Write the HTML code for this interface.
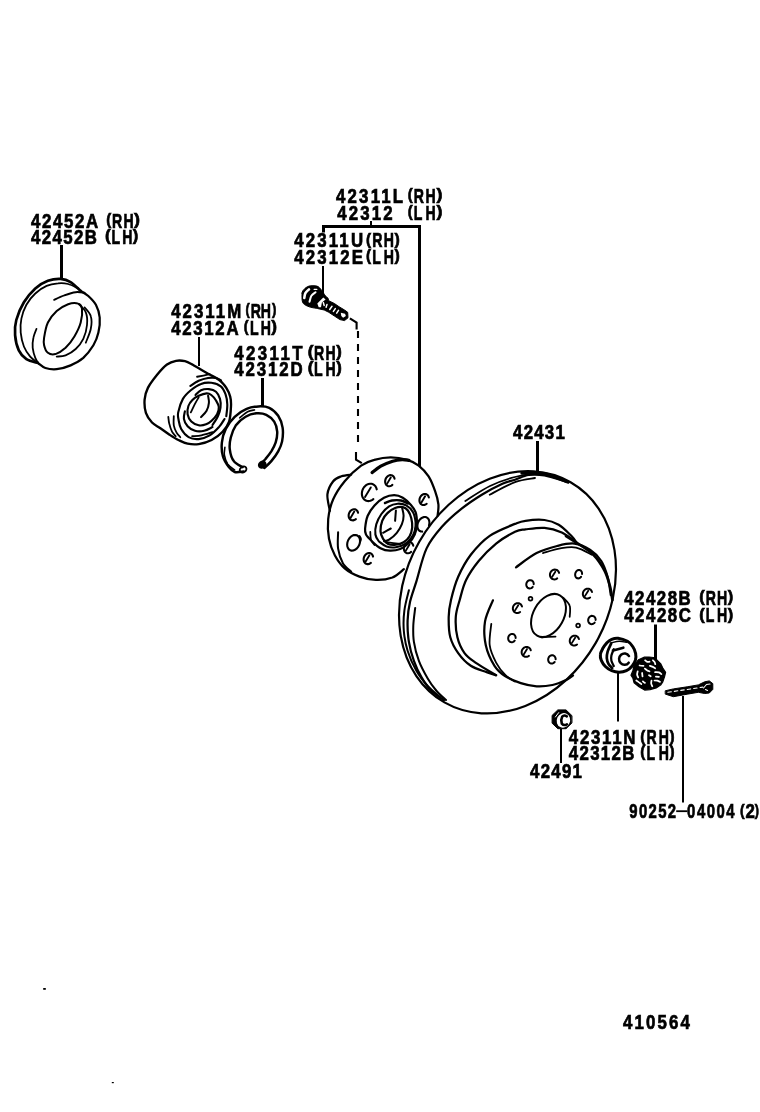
<!DOCTYPE html>
<html><head><meta charset="utf-8">
<style>
html,body{margin:0;padding:0;background:#fff;width:760px;height:1112px;overflow:hidden}
svg{display:block;will-change:transform}
text{font-family:"Liberation Sans",sans-serif;font-weight:bold;fill:#000}
</style></head><body>
<svg width="760" height="1112" viewBox="0 0 760 1112">
<g stroke="#000" stroke-width="0.7">
<text transform="translate(31.00,228.20) scale(0.86,1)" font-size="19.6" textLength="78.18" lengthAdjust="spacing">42452A</text>
<text transform="translate(106.20,224.80) scale(0.8,1)" font-size="17" textLength="6.25" lengthAdjust="spacingAndGlyphs">(</text>
<text transform="translate(112.00,228.20) scale(0.72,1)" font-size="19.6" textLength="30.00" lengthAdjust="spacing">RH</text>
<text transform="translate(134.00,224.80) scale(0.8,1)" font-size="17" textLength="7.47" lengthAdjust="spacingAndGlyphs">)</text>
<text transform="translate(31.00,243.70) scale(0.86,1)" font-size="19.6" textLength="76.74" lengthAdjust="spacing">42452B</text>
<text transform="translate(105.10,241.30) scale(0.8,1)" font-size="17" textLength="7.18" lengthAdjust="spacingAndGlyphs">(</text>
<text transform="translate(111.38,243.70) scale(0.72,1)" font-size="19.6" textLength="29.20" lengthAdjust="spacing">LH</text>
<text transform="translate(132.63,241.30) scale(0.8,1)" font-size="17" textLength="6.87" lengthAdjust="spacingAndGlyphs">)</text>
<text transform="translate(336.00,203.40) scale(0.86,1)" font-size="19.6" textLength="78.04" lengthAdjust="spacing">42311L</text>
<text transform="translate(407.80,200.00) scale(0.8,1)" font-size="17" textLength="6.19" lengthAdjust="spacingAndGlyphs">(</text>
<text transform="translate(413.85,203.40) scale(0.72,1)" font-size="19.6" textLength="30.50" lengthAdjust="spacing">RH</text>
<text transform="translate(436.45,200.00) scale(0.8,1)" font-size="17" textLength="7.40" lengthAdjust="spacingAndGlyphs">)</text>
<text transform="translate(337.20,219.50) scale(0.86,1)" font-size="19.6" textLength="64.39" lengthAdjust="spacing">42312</text>
<text transform="translate(407.80,217.10) scale(0.8,1)" font-size="17" textLength="6.19" lengthAdjust="spacingAndGlyphs">(</text>
<text transform="translate(413.85,219.50) scale(0.72,1)" font-size="19.6" textLength="30.50" lengthAdjust="spacing">LH</text>
<text transform="translate(436.45,217.10) scale(0.8,1)" font-size="17" textLength="7.40" lengthAdjust="spacingAndGlyphs">)</text>
<text transform="translate(294.20,247.40) scale(0.86,1)" font-size="19.6" textLength="80.10" lengthAdjust="spacing">42311U</text>
<text transform="translate(366.00,245.00) scale(0.8,1)" font-size="17" textLength="6.36" lengthAdjust="spacingAndGlyphs">(</text>
<text transform="translate(372.22,247.40) scale(0.72,1)" font-size="19.6" textLength="30.02" lengthAdjust="spacing">RH</text>
<text transform="translate(394.41,245.00) scale(0.8,1)" font-size="17" textLength="6.60" lengthAdjust="spacingAndGlyphs">)</text>
<text transform="translate(294.20,264.40) scale(0.86,1)" font-size="19.6" textLength="80.10" lengthAdjust="spacing">42312E</text>
<text transform="translate(366.00,261.00) scale(0.8,1)" font-size="17" textLength="6.36" lengthAdjust="spacingAndGlyphs">(</text>
<text transform="translate(372.22,264.40) scale(0.72,1)" font-size="19.6" textLength="30.02" lengthAdjust="spacing">LH</text>
<text transform="translate(394.41,261.00) scale(0.8,1)" font-size="17" textLength="6.60" lengthAdjust="spacingAndGlyphs">)</text>
<text transform="translate(171.20,318.40) scale(0.86,1)" font-size="19.6" textLength="81.40" lengthAdjust="spacing">42311M</text>
<text transform="translate(245.50,315.00) scale(0.8,1)" font-size="17" textLength="5.30" lengthAdjust="spacingAndGlyphs">(</text>
<text transform="translate(250.71,318.40) scale(0.72,1)" font-size="19.6" textLength="28.23" lengthAdjust="spacing">RH</text>
<text transform="translate(271.93,315.00) scale(0.8,1)" font-size="17" textLength="5.50" lengthAdjust="spacingAndGlyphs">)</text>
<text transform="translate(171.20,334.50) scale(0.86,1)" font-size="19.6" textLength="78.35" lengthAdjust="spacing">42312A</text>
<text transform="translate(243.70,332.10) scale(0.8,1)" font-size="17" textLength="5.99" lengthAdjust="spacingAndGlyphs">(</text>
<text transform="translate(249.98,334.50) scale(0.72,1)" font-size="19.6" textLength="29.20" lengthAdjust="spacing">LH</text>
<text transform="translate(271.23,332.10) scale(0.8,1)" font-size="17" textLength="7.15" lengthAdjust="spacingAndGlyphs">)</text>
<text transform="translate(234.20,360.20) scale(0.86,1)" font-size="19.6" textLength="79.52" lengthAdjust="spacing">42311T</text>
<text transform="translate(307.70,356.80) scale(0.8,1)" font-size="17" textLength="7.24" lengthAdjust="spacingAndGlyphs">(</text>
<text transform="translate(314.05,360.20) scale(0.72,1)" font-size="19.6" textLength="30.17" lengthAdjust="spacing">RH</text>
<text transform="translate(336.32,356.80) scale(0.8,1)" font-size="17" textLength="6.92" lengthAdjust="spacingAndGlyphs">)</text>
<text transform="translate(234.20,376.40) scale(0.86,1)" font-size="19.6" textLength="79.52" lengthAdjust="spacing">42312D</text>
<text transform="translate(307.70,373.00) scale(0.8,1)" font-size="17" textLength="7.24" lengthAdjust="spacingAndGlyphs">(</text>
<text transform="translate(314.05,376.40) scale(0.72,1)" font-size="19.6" textLength="30.17" lengthAdjust="spacing">LH</text>
<text transform="translate(336.32,373.00) scale(0.8,1)" font-size="17" textLength="6.92" lengthAdjust="spacingAndGlyphs">)</text>
<text transform="translate(513.10,439.20) scale(0.86,1)" font-size="19.6" textLength="60.17" lengthAdjust="spacing">42431</text>
<text transform="translate(624.20,604.50) scale(0.86,1)" font-size="19.6" textLength="77.33" lengthAdjust="spacing">42428B</text>
<text transform="translate(699.30,602.10) scale(0.8,1)" font-size="17" textLength="6.85" lengthAdjust="spacingAndGlyphs">(</text>
<text transform="translate(705.83,604.50) scale(0.72,1)" font-size="19.6" textLength="29.70" lengthAdjust="spacing">RH</text>
<text transform="translate(727.68,602.10) scale(0.8,1)" font-size="17" textLength="6.82" lengthAdjust="spacingAndGlyphs">)</text>
<text transform="translate(624.20,622.30) scale(0.86,1)" font-size="19.6" textLength="77.50" lengthAdjust="spacing">42428C</text>
<text transform="translate(699.30,619.90) scale(0.8,1)" font-size="17" textLength="6.85" lengthAdjust="spacingAndGlyphs">(</text>
<text transform="translate(705.83,622.30) scale(0.72,1)" font-size="19.6" textLength="29.70" lengthAdjust="spacing">LH</text>
<text transform="translate(727.68,619.90) scale(0.8,1)" font-size="17" textLength="6.82" lengthAdjust="spacingAndGlyphs">)</text>
<text transform="translate(568.80,744.20) scale(0.86,1)" font-size="19.6" textLength="77.60" lengthAdjust="spacing">42311N</text>
<text transform="translate(640.20,741.80) scale(0.8,1)" font-size="17" textLength="6.36" lengthAdjust="spacingAndGlyphs">(</text>
<text transform="translate(646.42,744.20) scale(0.72,1)" font-size="19.6" textLength="31.13" lengthAdjust="spacing">RH</text>
<text transform="translate(669.61,741.80) scale(0.8,1)" font-size="17" textLength="6.33" lengthAdjust="spacingAndGlyphs">)</text>
<text transform="translate(568.80,759.60) scale(0.86,1)" font-size="19.6" textLength="76.34" lengthAdjust="spacing">42312B</text>
<text transform="translate(640.20,757.20) scale(0.8,1)" font-size="17" textLength="6.36" lengthAdjust="spacingAndGlyphs">(</text>
<text transform="translate(646.42,759.60) scale(0.72,1)" font-size="19.6" textLength="31.13" lengthAdjust="spacing">LH</text>
<text transform="translate(669.61,757.20) scale(0.8,1)" font-size="17" textLength="6.33" lengthAdjust="spacingAndGlyphs">)</text>
<text transform="translate(530.00,778.10) scale(0.86,1)" font-size="19.6" textLength="60.47" lengthAdjust="spacing">42491</text>
<text transform="translate(629.30,818.30) scale(0.76,1)" font-size="19.6" textLength="61.51" lengthAdjust="spacing">90252</text>
<text transform="translate(687.10,818.20) scale(0.76,1)" font-size="19.6" textLength="62.50" lengthAdjust="spacing">04004</text>
<text transform="translate(740.00,815.80) scale(0.8,1)" font-size="17" textLength="5.76" lengthAdjust="spacingAndGlyphs">(</text>
<text transform="translate(745.40,818.20) scale(0.86,1)" font-size="19.6" textLength="4.53" lengthAdjust="spacing">2</text>
<text transform="translate(754.80,815.80) scale(0.8,1)" font-size="17" textLength="5.30" lengthAdjust="spacingAndGlyphs">)</text>
<text transform="translate(623.00,1029.00) scale(0.86,1)" font-size="19.6" textLength="77.91" lengthAdjust="spacing">410564</text>
<path d="M676.2 811.2H687.4" stroke-width="1.8" fill="none"/>
</g>
<g stroke="#000" fill="none" stroke-width="2">
<path d="M61.5 245V279" stroke-width="3"/>
<path d="M322 226.5H421M323.5 225V232.5M419.5 225V466" stroke-width="3"/>
<path d="M371 221V225.5" stroke-width="2"/>
<path d="M323 266V294"/>
<path d="M199 337V366"/>
<path d="M262.5 378V406" stroke-width="3"/>
<path d="M537.5 441V472" stroke-width="3"/>
<path d="M655.5 624.5V660" stroke-width="3"/>
<path d="M618 673V721.5"/>
<path d="M561 729V763"/>
<path d="M683 696V802.5"/>
</g>
<g stroke="#000" fill="none" stroke-linecap="round" stroke-linejoin="round">
<path d="M80.7 290.9C79.0 289.5 74.0 284.1 70.6 282.1C67.3 280.1 64.3 279.2 60.5 278.9C56.7 278.7 52.1 279.3 47.9 280.8C43.7 282.4 39.3 284.8 35.3 288.4C31.3 292.0 27.1 297.0 23.9 302.3C20.7 307.6 17.8 314.5 16.3 320.0C14.8 325.5 14.6 330.1 15.1 335.1C15.5 340.2 16.9 346.3 18.8 350.3C20.7 354.3 23.3 357.0 26.4 359.1C29.6 361.2 35.9 362.3 37.8 362.9" stroke-width="2.69"/>
<path d="M80.7 290.9C82.0 291.8 85.8 293.7 88.3 296.0C90.8 298.3 94.0 301.3 95.9 304.8C97.8 308.4 99.3 312.8 99.7 317.5C100.1 322.1 99.5 328.0 98.4 332.6C97.4 337.2 95.9 341.0 93.4 345.2C90.8 349.4 87.0 354.5 83.3 357.9C79.5 361.2 75.0 363.5 70.6 365.4C66.2 367.3 60.9 368.8 56.7 369.2C52.5 369.6 48.5 369.0 45.4 368.0C42.2 366.9 39.1 363.8 37.8 362.9" stroke-width="2.24"/>
<path d="M78.2 288.4C76.5 287.7 71.5 284.8 68.1 284.0C64.7 283.2 61.6 283.0 58.0 283.4C54.4 283.7 50.4 284.2 46.6 285.9C42.8 287.6 38.6 290.3 35.3 293.5C31.9 296.6 28.7 300.6 26.4 304.8C24.1 309.0 22.3 314.1 21.4 318.7C20.4 323.3 20.3 328.0 20.7 332.6C21.2 337.2 22.3 342.5 23.9 346.5C25.5 350.5 27.9 353.9 30.2 356.6C32.5 359.3 36.5 361.9 37.8 362.9" stroke-width="1.79"/>
<path d="M54.2 299.8C55.9 299.0 60.7 296.6 64.3 295.4C67.9 294.1 72.3 292.6 75.7 292.2C79.0 291.8 83.0 292.7 84.5 292.8" stroke-width="2.02"/>
<path d="M36.5 328.8C36.0 330.3 34.0 334.5 33.4 337.7C32.7 340.8 32.4 344.4 32.7 347.8C33.1 351.1 34.2 355.1 35.3 357.9C36.3 360.6 38.4 363.1 39.1 364.2" stroke-width="1.79"/>
<path d="M44.1 337.7C44.7 333.9 45.8 326.9 47.9 322.5C50.0 318.1 53.4 314.2 56.7 311.1C60.1 308.1 64.5 305.5 68.1 304.2C71.7 302.9 75.9 302.8 78.2 303.6C80.5 304.3 81.6 305.5 82.0 308.6C82.4 311.8 82.0 317.9 80.7 322.5C79.5 327.1 76.9 332.2 74.4 336.4C71.9 340.6 68.7 344.8 65.6 347.8C62.4 350.7 58.4 353.2 55.5 354.1C52.5 354.9 49.8 354.3 47.9 352.8C46.0 351.3 44.7 347.8 44.1 345.2C43.5 342.7 43.5 341.4 44.1 337.7Z" stroke-width="2.02"/>
<path d="M78.8 304.2C80.0 305.6 84.4 308.9 85.8 312.4C87.2 315.9 87.5 320.6 87.0 325.0C86.6 329.4 85.2 334.9 83.3 338.9C81.4 342.9 78.6 346.3 75.7 349.0C72.7 351.8 68.7 354.1 65.6 355.3C62.4 356.6 58.2 356.4 56.7 356.6" stroke-width="1.79"/>
<path d="M84.5 307.4C85.6 308.8 89.8 312.6 90.8 316.2C91.9 319.8 91.7 324.4 90.8 328.8C90.0 333.2 86.6 340.4 85.8 342.7" stroke-width="1.79"/>
<path d="M193.2 365.0C191.8 364.4 187.9 361.9 185.0 361.2C182.1 360.5 179.0 360.2 176.0 360.8C173.0 361.4 170.2 362.2 167.0 364.5C163.8 366.8 160.3 370.8 157.1 374.7C153.9 378.6 150.0 383.7 147.9 387.9C145.8 392.1 144.9 395.5 144.6 399.7C144.3 403.9 144.7 409.1 145.9 412.9C147.1 416.7 149.7 420.0 152.0 422.5C154.3 425.0 157.1 426.0 160.0 428.0C162.9 430.0 166.1 432.5 169.2 434.5C172.3 436.5 175.3 438.5 178.4 440.0C181.5 441.5 184.2 443.0 187.6 443.7C191.0 444.4 194.7 444.7 198.7 444.1C202.7 443.5 207.6 442.1 211.6 440.0C215.6 437.9 219.7 434.8 222.6 431.7C225.5 428.6 227.7 425.9 229.1 421.6C230.5 417.3 230.8 410.2 231.0 406.0C231.2 401.8 231.0 399.6 230.2 396.6C229.4 393.6 228.1 390.7 226.3 387.9C224.5 385.1 222.2 382.4 219.2 380.0C216.2 377.6 212.4 376.2 208.1 373.7C203.8 371.2 195.7 366.4 193.2 365.0" stroke-width="2.35"/>
<path d="M190.4 385.9C191.8 385.0 195.8 382.1 198.7 380.8C201.6 379.5 205.2 378.5 208.1 378.0C211.0 377.5 213.8 377.6 216.0 378.0C218.2 378.4 220.2 380.1 221.0 380.5" stroke-width="2.13"/>
<path d="M226.3 416.1C226.5 414.2 227.4 408.1 227.3 404.5C227.2 400.9 226.6 397.2 225.5 394.2C224.4 391.2 223.2 388.2 220.8 386.3C218.4 384.4 214.6 383.2 211.3 382.8C208.0 382.4 204.4 382.6 201.0 383.9C197.6 385.1 193.8 387.8 190.8 390.3C187.8 392.8 185.0 395.2 182.9 398.9C180.8 402.6 178.9 408.9 178.2 412.4C177.5 415.9 178.1 417.2 178.6 420.0C179.1 422.8 179.5 426.1 181.2 429.0C182.9 431.9 185.7 435.5 188.6 437.2C191.5 438.9 195.2 439.4 198.7 439.1C202.2 438.8 206.3 437.4 209.7 435.4C213.1 433.4 216.4 429.8 218.9 427.1C221.4 424.4 223.6 420.4 224.5 419.0" stroke-width="2.13"/>
<path d="M195.5 395.0C196.4 394.2 198.8 391.3 201.0 390.3C203.2 389.3 206.4 388.9 208.9 389.1C211.4 389.4 214.2 390.2 216.0 391.8C217.8 393.4 219.2 396.3 220.0 398.9C220.8 401.5 220.8 404.8 220.5 407.6C220.2 410.5 219.3 413.1 218.0 416.0C216.7 418.9 213.4 423.5 212.5 425.0" stroke-width="2.13"/>
<path d="M184.9 411.4C184.7 412.6 183.5 416.3 183.9 418.8C184.3 421.3 185.8 424.2 187.6 426.2C189.4 428.2 192.2 430.0 195.0 430.8C197.8 431.6 201.3 431.4 204.2 430.8C207.1 430.2 211.1 427.7 212.5 427.1" stroke-width="2.13"/>
<path d="M192.2 436.3C193.7 436.1 198.0 436.1 201.4 435.4C204.8 434.7 210.7 432.7 212.5 432.2" stroke-width="1.90"/>
<path d="M206.6 393.4C208.7 393.3 209.7 393.8 211.3 395.0C212.9 396.2 214.8 398.5 216.0 400.5C217.2 402.5 218.6 404.7 218.8 407.0C219.0 409.3 218.3 411.9 217.1 414.2C215.9 416.5 213.4 419.0 211.6 420.7C209.8 422.4 208.2 423.5 206.1 424.3C203.9 425.1 201.2 425.8 198.7 425.3C196.2 424.9 193.2 423.5 191.3 421.6C189.5 419.8 188.1 416.8 187.6 414.2C187.1 411.6 187.6 408.4 188.4 406.0C189.2 403.6 190.7 401.7 192.4 400.0C194.1 398.3 196.3 396.9 198.7 395.8C201.1 394.7 204.5 393.5 206.6 393.4Z" stroke-width="2.13"/>
<path d="M208.1 395.8C208.2 397.0 209.2 400.4 208.9 402.9C208.7 405.4 207.9 408.4 206.6 410.8C205.3 413.2 201.9 416.1 201.0 417.1" stroke-width="2.02"/>
<path d="M190.8 412.4C191.6 410.8 194.2 405.4 195.5 402.9C196.8 400.4 198.2 398.3 198.7 397.4" stroke-width="1.79"/>
<path d="M168.3 417.0C168.5 418.1 168.6 420.9 169.2 423.4C169.8 425.8 170.9 429.5 172.0 431.7C173.1 433.9 175.1 435.5 175.7 436.3" stroke-width="1.79"/>
<path d="M173.8 416.1C173.8 417.6 173.3 422.6 173.8 425.3C174.3 428.1 175.5 430.6 176.6 432.6C177.7 434.6 179.7 436.4 180.3 437.2" stroke-width="1.79"/>
<path d="M197.1 376.8C199.2 376.4 207.6 374.6 209.7 374.1" stroke-width="1.90"/>
<path d="M243.6 471.5C242.1 471.6 237.2 472.7 234.7 472.0C232.3 471.3 230.8 469.7 228.8 467.1C226.8 464.4 224.0 460.3 222.9 456.2C221.7 452.1 221.4 447.0 221.9 442.4C222.4 437.8 223.7 432.9 225.9 428.6C228.0 424.3 231.3 420.1 234.7 416.8C238.2 413.5 242.6 410.6 246.6 408.9C250.5 407.1 254.6 406.6 258.4 406.4C262.2 406.2 266.0 406.3 269.3 407.9C272.6 409.5 275.9 412.5 278.2 415.8C280.4 419.1 281.9 423.3 282.6 427.6C283.3 431.9 282.8 437.5 282.1 441.4C281.4 445.4 280.0 448.0 278.2 451.3C276.4 454.6 273.6 458.3 271.3 461.1C268.9 463.9 265.5 466.9 264.3 468.0" stroke-width="2.46"/>
<path d="M242.6 467.1C241.2 466.1 235.9 464.1 233.8 461.1C231.6 458.2 230.3 453.3 229.8 449.3C229.3 445.4 229.8 441.4 230.8 437.5C231.8 433.5 233.3 429.1 235.7 425.6C238.2 422.2 242.1 418.8 245.6 416.8C249.0 414.7 253.0 413.6 256.4 413.3C259.9 413.0 263.4 413.4 266.3 414.8C269.3 416.2 272.4 418.9 274.2 421.7C276.0 424.5 276.9 428.1 277.2 431.6C277.4 435.0 276.7 439.1 275.7 442.4C274.7 445.7 273.0 448.5 271.3 451.3C269.5 454.1 267.1 457.0 265.3 459.2C263.5 461.3 261.2 463.3 260.4 464.1" stroke-width="2.46"/>
<path d="M239.7 417.8C241.0 416.8 245.1 413.1 247.6 411.8C250.0 410.5 253.3 410.2 254.5 409.9" stroke-width="1.57"/>
<path d="M224.9 447.3C224.8 448.7 223.9 452.4 224.4 455.2C224.9 458.0 226.1 461.6 227.8 464.1C229.6 466.6 233.6 469.0 234.7 470.0" stroke-width="1.57"/>
<ellipse cx="243.1" cy="469.5" rx="3.6" ry="2.8" transform="rotate(-35 243.1 469.5)" stroke-width="1.8"/>
<ellipse cx="262.2" cy="464.6" rx="3.6" ry="3" transform="rotate(-35 262.2 464.6)" stroke-width="1.8" fill="#000"/>
<path d="M302.1 293.1C302.3 291.0 302.9 290.6 304.0 289.4C305.1 288.2 306.9 286.7 309.0 286.1C311.1 285.6 314.9 285.6 316.9 286.1C318.9 286.7 319.9 288.2 321.0 289.4C322.1 290.6 323.0 292.2 323.8 293.5C324.6 294.8 325.6 295.7 325.6 297.2C325.6 298.7 325.0 300.9 323.8 302.7C322.6 304.5 320.5 306.9 318.7 307.8C316.9 308.7 315.1 308.1 313.2 307.8C311.3 307.5 309.0 306.9 307.2 306.0C305.4 305.1 303.5 304.4 302.6 302.3C301.8 300.2 301.9 295.2 302.1 293.1Z" fill="#000" stroke="#000" stroke-width="1"/>
<polygon points="322.0,293.4 327.9,298.0 328.8,300.8 334.4,303.5 339.0,306.7 344.5,310.0 347.7,312.3 348.0,317.8 344.5,320.6 339.9,319.6 334.4,316.0 328.8,312.3 324.2,310.0 317.8,308.6" fill="#000" stroke="#000" stroke-width="1" stroke-linejoin="round"/>
<path d="M304.3 298.0C304.5 297.2 304.6 294.6 305.4 293.1C306.2 291.7 308.4 289.9 309.0 289.3" stroke-width="2.58" stroke="#fff"/>
<path d="M309.5 301.8C309.8 300.8 310.4 297.4 311.4 295.8C312.4 294.2 314.8 292.8 315.5 292.2" stroke-width="2.02" stroke="#fff"/>
<path d="M314.1 289.4C314.6 289.4 316.4 289.4 316.9 289.4" stroke-width="1.12" stroke="#fff"/>
<polygon points="317.3,303.5 320.5,300.3 323.3,297.5 325.6,299.4 321.9,302.6 321,307.2 318.7,307.2" fill="#fff" stroke="none"/>
<path d="M323.3 302.6L324.2 305.4" stroke="#fff" stroke-width="1.5"/>
<path d="M327.0 304.4L326.1 307.2" stroke="#fff" stroke-width="1.5"/>
<path d="M332.0 306.3L329.7 309.5" stroke="#fff" stroke-width="1.5"/>
<path d="M335.3 308.6L333.4 311.4" stroke="#fff" stroke-width="1.5"/>
<path d="M338.5 310.4L336.7 313.2" stroke="#fff" stroke-width="1.5"/>
<polygon points="340.8,312.7 345,313.7 345.9,316 343.1,317.8 341.3,316" fill="#fff" stroke="none"/>
<path d="M349.9 318.3L356.6 322.6V329.5M358 331.1V337.9M358 344.1V350.9M358 357.1V363.9M358 370.1V376.9M358 383.1V389.9M358 396.1V402.9M358 409.1V415.9M358 422.1V428.9M358 435.1V441.9M356 452.1V459.6L361.8 463.2" stroke-width="2.1" stroke-linecap="butt" stroke-linejoin="miter"/>
<path d="M403.9 569.2C402.0 570.6 397.0 575.7 392.4 577.5C387.7 579.2 381.4 580.1 375.9 579.9C370.4 579.8 364.7 578.6 359.5 576.6C354.3 574.7 348.8 572.0 344.7 568.4C340.6 564.9 337.4 560.2 334.8 555.3C332.2 550.3 330.1 544.8 329.0 538.8C327.9 532.8 327.5 525.7 328.2 519.1C328.9 512.5 330.4 505.6 333.2 499.3C335.9 493.0 340.0 486.9 344.7 481.2C349.3 475.6 356.2 469.2 361.1 465.6C366.1 462.1 369.3 461.2 374.3 459.9C379.2 458.5 385.2 457.4 390.7 457.4C396.2 457.4 402.5 458.5 407.2 459.9C411.8 461.2 415.1 462.9 418.7 465.6C422.2 468.4 425.8 472.1 428.6 476.3C431.3 480.6 433.5 486.5 435.1 491.1C436.8 495.8 438.0 500.2 438.4 504.3C438.8 508.4 437.7 513.9 437.6 515.8" stroke-width="2.24"/>
<path d="M329.9 510.9C329.5 508.1 326.9 499.3 327.4 494.4C327.9 489.5 330.8 484.3 333.2 481.2C335.5 478.2 338.4 477.4 341.4 476.3C344.4 475.2 349.6 474.9 351.2 474.7" stroke-width="2.24"/>
<path d="M338.1 532.2C338.1 535.0 337.3 543.5 338.1 548.7C338.9 553.9 340.8 559.6 343.0 563.5C345.2 567.3 349.9 570.3 351.2 571.7" stroke-width="2.02"/>
<path d="M372.1 472.6C373.6 471.5 377.4 468.1 380.8 466.2C384.2 464.3 389.1 462.3 392.6 461.2C396.2 460.1 399.4 459.8 402.1 459.6C404.8 459.5 407.9 460.2 409.0 460.3" stroke-width="3.25"/>
<path d="M365.1 528.5C365.4 525.4 366.1 519.6 367.7 515.7C369.3 511.9 371.8 508.4 374.5 505.4C377.2 502.4 380.7 499.4 384.0 497.7C387.3 496.0 391.1 495.1 394.2 495.1C397.3 495.1 400.1 496.1 402.8 497.7C405.5 499.3 408.4 502.1 410.5 504.5C412.6 506.9 414.5 508.9 415.6 512.2C416.7 515.5 417.0 520.5 416.9 524.2C416.8 527.9 416.0 531.4 414.7 534.5C413.4 537.6 411.2 540.6 408.8 543.0C406.4 545.4 403.4 547.7 400.2 549.0C397.0 550.3 393.2 550.8 389.9 550.7C386.6 550.6 383.5 549.8 380.5 548.2C377.5 546.6 374.4 543.6 372.0 541.3C369.6 539.0 367.1 536.6 366.0 534.5C364.9 532.4 364.8 531.6 365.1 528.5Z" stroke-width="2.24"/>
<path d="M378.8 541.3C378.2 540.2 375.8 537.4 375.4 534.5C375.0 531.6 375.3 527.6 376.3 524.2C377.3 520.8 379.3 517.0 381.4 514.0C383.5 511.0 386.4 508.0 389.1 506.3C391.8 504.6 394.8 503.9 397.6 503.7C400.5 503.5 403.6 504.0 406.2 505.4C408.8 506.8 411.4 509.4 413.0 512.2C414.6 515.1 415.3 519.4 415.6 522.5C415.9 525.6 415.4 528.5 414.7 531.1C414.0 533.7 412.9 535.8 411.3 537.9C409.7 540.0 407.9 542.3 405.3 543.9C402.7 545.5 399.0 546.9 395.9 547.3C392.8 547.7 389.4 547.5 386.5 546.5C383.6 545.5 380.1 542.2 378.8 541.3" stroke-width="2.13"/>
<path d="M385.0 503.0C386.2 502.6 389.3 500.9 392.0 500.5C394.7 500.1 398.3 500.0 401.0 500.5C403.7 501.0 406.8 503.0 408.0 503.5" stroke-width="2.46"/>
<path d="M380.5 531.1C380.4 528.1 381.1 523.8 382.2 520.8C383.3 517.8 385.2 515.2 387.4 513.1C389.5 511.0 392.5 509.0 395.1 508.0C397.7 507.0 400.7 506.7 402.8 507.1C404.9 507.5 406.5 508.6 407.9 510.5C409.3 512.4 410.6 515.4 411.3 518.2C412.0 521.1 412.5 524.6 412.2 527.6C411.9 530.6 411.0 533.8 409.6 536.2C408.2 538.6 405.9 540.8 403.6 542.2C401.3 543.6 398.5 544.4 395.9 544.7C393.3 545.0 390.3 544.9 388.2 543.9C386.1 542.9 384.4 540.9 383.1 538.8C381.8 536.7 380.6 534.1 380.5 531.1Z" stroke-width="2.24"/>
<path d="M401.9 507.1C402.2 508.5 403.6 512.9 403.6 515.7C403.6 518.6 403.0 521.4 401.9 524.2C400.8 527.1 398.9 530.2 396.8 532.8C394.7 535.4 391.2 538.2 389.1 539.6C387.0 541.0 384.9 541.0 384.0 541.3" stroke-width="2.02"/>
<path d="M395.9 510.5C395.8 512.2 395.2 519.1 395.1 520.8" stroke-width="2.02"/>
<path d="M383.1 532.8C384.4 532.1 389.5 529.2 390.8 528.5" stroke-width="2.02"/>
<path d="M386.5 542.2C388.8 542.5 397.9 543.6 400.2 543.9" stroke-width="1.79"/>
<path d="M370.3 532.0C370.4 533.3 370.3 537.8 371.0 540.0C371.7 542.2 373.9 544.2 374.5 545.0" stroke-width="1.79"/>
<path d="M394.56 478.71 L394.24 477.67 L393.73 476.77 L393.06 476.03 L392.24 475.51 L391.33 475.21 L390.34 475.15 L389.34 475.34 L388.37 475.76 L387.46 476.40 L386.66 477.23 L386.00 478.21 L385.51 479.30 L385.22 480.46 L385.13 481.62 L385.25 482.74 L385.58 483.78 L386.10 484.67 L386.78 485.40 L387.60 485.91 L388.52 486.20 L389.51 486.25 L390.51 486.05 L391.48 485.61 L392.39 484.96" stroke-width="2.1"/>
<path d="M390.80 477.50L387.13 483.64" stroke-width="1.8900000000000001"/>
<path d="M376.76 489.33 L376.25 487.70 L375.44 486.28 L374.36 485.13 L373.06 484.29 L371.61 483.82 L370.05 483.72 L368.47 484.00 L366.93 484.65 L365.50 485.65 L364.24 486.94 L363.20 488.47 L362.44 490.17 L361.99 491.98 L361.86 493.80 L362.06 495.56 L362.59 497.18 L363.41 498.59 L364.50 499.72 L365.81 500.54 L367.27 501.00 L368.83 501.08 L370.41 500.77 L371.95 500.10 L373.37 499.09" stroke-width="2.1"/>
<path d="M370.79 487.40L365.03 496.97" stroke-width="1.8900000000000001"/>
<path d="M428.86 497.51 L428.54 496.47 L428.03 495.57 L427.36 494.83 L426.54 494.31 L425.63 494.01 L424.64 493.95 L423.64 494.14 L422.67 494.56 L421.76 495.20 L420.96 496.03 L420.30 497.01 L419.81 498.10 L419.52 499.26 L419.43 500.42 L419.55 501.54 L419.88 502.58 L420.40 503.47 L421.08 504.20 L421.90 504.71 L422.82 505.00 L423.81 505.05 L424.81 504.85 L425.78 504.41 L426.69 503.76" stroke-width="2.1"/>
<path d="M425.10 496.30L421.43 502.44" stroke-width="1.8900000000000001"/>
<path d="M358.06 512.81 L357.74 511.77 L357.23 510.87 L356.56 510.13 L355.74 509.61 L354.83 509.31 L353.84 509.25 L352.84 509.44 L351.87 509.86 L350.96 510.50 L350.16 511.33 L349.50 512.31 L349.01 513.40 L348.72 514.56 L348.63 515.72 L348.75 516.84 L349.08 517.88 L349.60 518.77 L350.28 519.50 L351.10 520.01 L352.02 520.30 L353.01 520.35 L354.01 520.15 L354.98 519.71 L355.89 519.06" stroke-width="2.1"/>
<path d="M354.30 511.60L350.63 517.74" stroke-width="1.8900000000000001"/>
<path d="M373.06 556.61 L372.74 555.57 L372.23 554.67 L371.56 553.93 L370.74 553.41 L369.83 553.11 L368.84 553.05 L367.84 553.24 L366.87 553.66 L365.96 554.30 L365.16 555.13 L364.50 556.11 L364.01 557.20 L363.72 558.36 L363.63 559.52 L363.75 560.64 L364.08 561.68 L364.60 562.57 L365.28 563.30 L366.10 563.81 L367.02 564.10 L368.01 564.15 L369.01 563.95 L369.98 563.51 L370.89 562.86" stroke-width="2.1"/>
<path d="M369.30 555.40L365.63 561.54" stroke-width="1.8900000000000001"/>
<path d="M413.26 545.71 L412.94 544.67 L412.43 543.77 L411.76 543.03 L410.94 542.51 L410.03 542.21 L409.04 542.15 L408.04 542.34 L407.07 542.76 L406.16 543.40 L405.36 544.23 L404.70 545.21 L404.21 546.30 L403.92 547.46 L403.83 548.62 L403.95 549.74 L404.28 550.78 L404.80 551.67 L405.48 552.40 L406.30 552.91 L407.22 553.20 L408.21 553.25 L409.21 553.05 L410.18 552.61 L411.09 551.96" stroke-width="2.1"/>
<path d="M409.50 544.50L405.83 550.64" stroke-width="1.8900000000000001"/>
<path d="M359.04 545.34 L359.75 543.33 L360.04 541.28 L359.90 539.34 L359.32 537.63 L358.35 536.28 L357.07 535.37 L355.54 534.97 L353.88 535.10 L352.21 535.75 L350.62 536.89 L349.24 538.43 L348.16 540.26 L347.45 542.27 L347.16 544.32 L347.30 546.26 L347.88 547.97 L348.85 549.32 L350.13 550.23 L351.66 550.63 L353.32 550.50 L354.99 549.85 L356.58 548.71 L357.96 547.17 L359.04 545.34" stroke-width="2.1"/>
<path d="M359.5 536.0C359.8 536.5 360.9 538.0 361.0 539.0C361.1 540.0 360.2 541.5 360.0 542.0" stroke-width="1.79"/>
<path d="M428.96 525.43 L429.30 523.96 L429.41 522.49 L429.26 521.10 L428.87 519.85 L428.26 518.77 L427.44 517.93 L426.46 517.35 L425.35 517.05 L424.17 517.06 L422.95 517.36 L421.74 517.95 L420.61 518.81 L419.59 519.89 L418.73 521.15 L418.06 522.54 L417.62 524.01 L417.41 525.49 L417.45 526.91 L417.73 528.24 L418.25 529.39 L418.98 530.34 L419.90 531.04 L420.96 531.46 L422.12 531.58" stroke-width="2.1"/>
<ellipse cx="507.5" cy="592.3" rx="101.7" ry="126.9" transform="rotate(29.8 507.5 592.3)" stroke-width="2.2"/>
<path d="M568.2 482.1C564.2 481.0 551.1 476.7 544.5 475.5C537.9 474.3 533.6 474.3 528.7 475.0C523.8 475.7 519.4 478.2 515.0 479.7C510.6 481.1 507.9 481.2 502.4 483.7C496.9 486.2 488.6 490.5 481.8 494.7C475.0 498.9 467.9 503.6 461.3 508.9C454.7 514.2 448.2 519.7 442.4 526.3C436.6 532.9 430.9 539.2 426.6 548.4C422.3 557.6 419.1 572.5 416.4 581.4C413.6 590.3 411.6 595.1 410.1 601.6C408.6 608.1 407.8 613.8 407.6 620.5C407.4 627.2 407.8 635.2 408.9 641.9C409.9 648.6 411.8 654.9 413.9 660.8C416.0 666.7 418.5 672.1 421.4 677.1C424.3 682.1 427.7 687.2 431.5 691.0C435.3 694.8 441.9 698.5 444.0 700.0" stroke-width="2.24"/>
<path d="M408.9 590.2C408.1 593.6 405.2 603.7 404.4 610.4C403.5 617.1 403.3 623.8 403.8 630.5C404.3 637.2 405.5 644.0 407.6 650.7C409.7 657.4 413.0 664.9 416.4 670.8C419.8 676.7 423.8 681.6 427.7 686.0C431.6 690.4 437.9 695.2 440.0 697.0" stroke-width="2.02"/>
<path d="M415.2 607.9C414.9 610.8 413.5 619.8 413.3 625.5C413.1 631.2 413.0 636.0 413.9 641.9C414.8 647.8 416.6 654.7 418.9 660.8C421.2 666.9 424.8 673.4 427.7 678.4C430.6 683.4 433.6 687.4 436.6 691.0C439.7 694.6 444.4 698.5 446.0 700.0" stroke-width="2.02"/>
<path d="M465.3 501.0C469.4 498.5 481.7 490.0 490.0 486.0C498.3 482.0 506.7 479.0 515.0 477.0C523.3 475.0 532.5 473.8 540.0 474.0C547.5 474.2 556.7 477.3 560.0 478.0" stroke-width="1.79"/>
<path d="M489.7 494.7C493.9 492.6 507.4 484.9 515.0 482.1C522.5 479.3 531.7 478.7 535.0 478.0" stroke-width="1.79"/>
<path d="M522.0 473.0C525.8 473.2 537.3 472.5 545.0 474.0C552.7 475.5 564.2 480.7 568.0 482.0" stroke-width="3.36"/>
<path d="M496.1 675.2C494.5 674.7 490.8 673.7 486.6 672.1C482.4 670.5 475.5 669.0 470.8 665.8C466.1 662.6 461.6 657.9 458.2 653.1C454.8 648.4 451.9 643.3 450.3 637.3C448.7 631.2 448.6 623.0 448.7 616.8C448.8 610.6 449.4 606.7 451.0 600.0C452.6 593.3 454.9 584.3 458.2 576.8C461.5 569.2 465.6 561.5 470.8 554.7C476.1 547.9 482.3 540.9 489.7 535.8C497.1 530.7 509.0 526.4 515.0 523.9C521.0 521.4 520.6 521.4 525.5 520.8C530.4 520.1 539.0 519.4 544.5 520.0C550.0 520.6 554.2 522.1 558.7 524.7C563.2 527.3 568.3 532.8 571.3 535.8C574.3 538.8 575.9 541.7 576.8 542.9" stroke-width="2.24"/>
<path d="M496.1 675.2C492.7 673.1 480.8 666.3 475.5 662.6C470.2 658.9 467.5 657.3 464.5 653.1C461.5 648.9 458.8 643.3 457.4 637.3C455.9 631.2 455.4 623.0 455.8 616.8C456.2 610.6 458.0 606.1 459.7 600.0C461.4 593.9 462.9 586.5 466.1 580.0C469.3 573.5 473.7 567.1 478.7 561.0C483.7 554.9 490.1 548.5 496.1 543.6C502.2 538.7 510.1 534.2 515.0 531.8C519.9 529.4 520.6 530.0 525.5 529.4C530.4 528.8 538.5 527.4 544.5 527.9C550.5 528.4 556.4 530.1 561.8 532.6C567.2 535.1 574.3 541.2 576.8 542.9" stroke-width="2.24"/>
<path d="M566.0 536.0C567.8 537.1 572.2 539.8 576.8 542.9C581.4 546.0 588.8 550.1 593.4 554.7C598.0 559.3 601.7 565.2 604.5 570.5C607.3 575.8 608.7 581.4 610.0 586.3C611.3 591.2 612.0 597.7 612.4 600.0" stroke-width="2.69"/>
<path d="M516.0 567.3C519.4 564.9 529.8 556.6 536.6 553.1C543.5 549.6 550.8 547.6 557.1 546.0C563.4 544.4 569.0 542.9 574.5 543.6C580.0 544.3 585.8 547.1 590.3 550.0C594.8 552.9 598.4 556.5 601.3 561.0C604.2 565.5 606.0 571.1 607.6 576.8C609.2 582.5 610.3 592.0 610.8 595.0" stroke-width="2.24"/>
<path d="M542.9 553.1C545.8 552.3 554.8 549.3 560.3 548.4C565.8 547.5 570.9 546.5 576.1 547.6C581.4 548.7 589.2 553.5 591.8 554.7" stroke-width="1.79"/>
<path d="M492.9 600.3C491.6 603.8 486.2 614.1 485.0 621.6C483.8 629.1 484.2 637.8 485.8 645.2C487.4 652.6 491.3 660.7 494.5 665.8C497.7 670.9 500.6 673.1 505.0 676.0C509.4 678.9 515.5 681.4 520.8 683.1C526.1 684.8 531.3 686.0 536.6 686.3C541.9 686.6 547.5 686.0 552.4 685.0C557.3 684.0 562.6 681.6 566.0 680.0C569.4 678.4 571.8 676.2 573.0 675.5" stroke-width="2.24"/>
<path d="M491.3 623.9C491.0 627.5 488.9 638.8 489.7 645.2C490.5 651.7 493.5 657.6 496.1 662.6C498.7 667.6 502.4 672.1 505.5 675.2C508.6 678.4 513.4 680.5 515.0 681.5" stroke-width="1.79"/>
<ellipse cx="548.5" cy="615.5" rx="23.2" ry="15.2" transform="rotate(-60.7 548.5 615.5)" stroke-width="2"/>
<path d="M563.4 597.9C564.5 599.2 568.7 602.6 569.7 605.8C570.8 608.9 569.7 615.0 569.7 616.8" stroke-width="1.79"/>
<path d="M541.3 637.3C543.7 637.2 553.1 636.7 555.5 636.6" stroke-width="1.79"/>
<path d="M559.09 572.92 L558.74 571.98 L558.20 571.15 L557.51 570.46 L556.68 569.95 L555.77 569.65 L554.80 569.55 L553.82 569.68 L552.88 570.02 L552.02 570.55 L551.27 571.26 L550.66 572.11 L550.23 573.06 L549.99 574.08 L549.95 575.12 L550.12 576.13 L550.49 577.07 L551.03 577.89 L551.73 578.57 L552.56 579.07 L553.48 579.36 L554.45 579.44 L555.43 579.31 L556.36 578.96 L557.22 578.42" stroke-width="2.0"/>
<path d="M555.35 571.67L552.00 577.01" stroke-width="1.8"/>
<path d="M591.99 592.02 L591.64 591.08 L591.10 590.25 L590.41 589.56 L589.58 589.05 L588.67 588.75 L587.70 588.65 L586.72 588.78 L585.78 589.12 L584.92 589.65 L584.17 590.36 L583.56 591.21 L583.13 592.16 L582.89 593.18 L582.85 594.22 L583.02 595.23 L583.39 596.17 L583.93 596.99 L584.63 597.67 L585.46 598.17 L586.38 598.46 L587.35 598.54 L588.33 598.41 L589.26 598.06 L590.12 597.52" stroke-width="2.0"/>
<path d="M588.25 590.77L584.90 596.11" stroke-width="1.8"/>
<path d="M521.99 606.52 L521.64 605.58 L521.10 604.75 L520.41 604.06 L519.58 603.55 L518.67 603.25 L517.70 603.15 L516.72 603.28 L515.78 603.62 L514.92 604.15 L514.17 604.86 L513.56 605.71 L513.13 606.66 L512.89 607.68 L512.85 608.72 L513.02 609.73 L513.39 610.67 L513.93 611.49 L514.63 612.17 L515.46 612.67 L516.38 612.96 L517.35 613.04 L518.33 612.91 L519.26 612.56 L520.12 612.02" stroke-width="2.0"/>
<path d="M518.25 605.27L514.90 610.61" stroke-width="1.8"/>
<path d="M578.89 639.02 L578.54 638.08 L578.00 637.25 L577.31 636.56 L576.48 636.05 L575.57 635.75 L574.60 635.65 L573.62 635.78 L572.68 636.12 L571.82 636.65 L571.07 637.36 L570.46 638.21 L570.03 639.16 L569.79 640.18 L569.75 641.22 L569.92 642.23 L570.29 643.17 L570.83 643.99 L571.53 644.67 L572.36 645.17 L573.28 645.46 L574.25 645.54 L575.23 645.41 L576.16 645.06 L577.02 644.52" stroke-width="2.0"/>
<path d="M575.15 637.77L571.80 643.11" stroke-width="1.8"/>
<path d="M530.79 650.32 L530.44 649.38 L529.90 648.55 L529.21 647.86 L528.38 647.35 L527.47 647.05 L526.50 646.95 L525.52 647.08 L524.58 647.42 L523.72 647.95 L522.97 648.66 L522.36 649.51 L521.93 650.46 L521.69 651.48 L521.65 652.52 L521.82 653.53 L522.19 654.47 L522.73 655.29 L523.43 655.97 L524.26 656.47 L525.18 656.76 L526.15 656.84 L527.13 656.71 L528.06 656.36 L528.92 655.82" stroke-width="2.0"/>
<path d="M527.05 649.07L523.70 654.41" stroke-width="1.8"/>
<path d="M582.06 573.98 L582.02 573.00 L581.79 572.10 L581.40 571.30 L580.85 570.66 L580.18 570.22 L579.42 569.99 L578.62 569.98 L577.82 570.20 L577.06 570.64 L576.39 571.27 L575.83 572.06 L575.43 572.96 L575.19 573.93 L575.14 574.92 L575.27 575.86 L575.59 576.72 L576.06 577.44 L576.67 577.98 L577.39 578.33 L578.17 578.45 L578.98 578.34 L579.76 578.00 L580.49 577.47 L581.11 576.75" stroke-width="2.0"/>
<path d="M533.73 584.17 L533.66 583.22 L533.39 582.32 L532.94 581.53 L532.33 580.88 L531.59 580.42 L530.77 580.18 L529.91 580.15 L529.05 580.34 L528.24 580.75 L527.53 581.36 L526.95 582.11 L526.53 582.99 L526.31 583.94 L526.28 584.91 L526.45 585.84 L526.81 586.69 L527.35 587.42 L528.03 587.97 L528.81 588.33 L529.66 588.47 L530.53 588.38 L531.36 588.08 L532.13 587.57 L532.78 586.88" stroke-width="2.0"/>
<path d="M595.63 619.88 L595.56 618.92 L595.29 618.02 L594.84 617.23 L594.23 616.58 L593.49 616.12 L592.67 615.88 L591.81 615.85 L590.95 616.04 L590.14 616.45 L589.43 617.06 L588.85 617.81 L588.43 618.69 L588.21 619.64 L588.18 620.61 L588.35 621.54 L588.71 622.39 L589.25 623.12 L589.93 623.67 L590.71 624.03 L591.56 624.17 L592.43 624.08 L593.26 623.78 L594.03 623.27 L594.68 622.58" stroke-width="2.0"/>
<path d="M515.63 637.98 L515.56 637.02 L515.29 636.12 L514.84 635.33 L514.23 634.68 L513.49 634.22 L512.67 633.98 L511.81 633.95 L510.95 634.14 L510.14 634.55 L509.43 635.16 L508.85 635.91 L508.43 636.79 L508.21 637.74 L508.18 638.71 L508.35 639.64 L508.71 640.49 L509.25 641.22 L509.92 641.77 L510.71 642.13 L511.56 642.27 L512.43 642.18 L513.26 641.88 L514.03 641.37 L514.68 640.68" stroke-width="2.0"/>
<path d="M555.63 659.27 L555.56 658.32 L555.29 657.42 L554.84 656.63 L554.23 655.98 L553.49 655.52 L552.67 655.28 L551.81 655.25 L550.95 655.44 L550.14 655.85 L549.43 656.46 L548.85 657.21 L548.43 658.09 L548.21 659.04 L548.18 660.01 L548.35 660.94 L548.71 661.79 L549.25 662.52 L549.93 663.07 L550.71 663.43 L551.56 663.57 L552.43 663.48 L553.26 663.18 L554.03 662.67 L554.68 661.98" stroke-width="2.0"/>
<circle cx="530.5" cy="598.8" r="1.9" stroke-width="1.7"/>
<circle cx="578.1" cy="625.6" r="1.9" stroke-width="1.7"/>
<path d="M618.0 638.2C620.6 638.5 625.0 639.9 627.5 641.3C629.9 642.6 631.4 644.5 632.7 646.5C634.1 648.5 635.2 651.1 635.6 653.4C636.1 655.6 635.9 658.1 635.4 660.2C634.8 662.3 633.7 664.2 632.2 666.0C630.7 667.8 628.6 669.7 626.4 670.7C624.2 671.8 621.5 672.3 619.1 672.3C616.6 672.3 614.0 671.7 611.7 670.7C609.4 669.8 607.1 668.2 605.4 666.5C603.7 664.9 602.3 662.8 601.4 660.7C600.6 658.7 600.1 656.4 600.4 654.4C600.6 652.4 601.6 650.6 602.7 648.6C603.8 646.7 605.5 644.4 606.9 642.8C608.4 641.3 609.8 640.2 611.7 639.4C613.5 638.6 615.4 637.9 618.0 638.2Z" stroke-width="3.02"/>
<path d="M611.2 643.4C610.6 644.7 608.5 648.8 607.7 651.3C607.0 653.7 606.7 656.0 606.8 658.1C607.0 660.2 607.6 662.2 608.5 663.9C609.4 665.6 611.6 667.4 612.2 668.1" stroke-width="2.69"/>
<path d="M613.8 649.2C613.4 650.2 611.8 653.5 611.4 655.5C611.0 657.4 611.0 659.0 611.4 660.7C611.8 662.5 613.4 665.1 613.8 666.0" stroke-width="2.24"/>
<path d="M613.0 650.5C614.7 650.0 621.6 648.1 623.3 647.7" stroke-width="2.69"/>
<path d="M611.2 642.8C612.5 642.6 616.5 641.4 619.1 641.3C621.6 641.2 625.2 642.1 626.4 642.3" stroke-width="1.46"/>
<path d="M629.00 656.06A5.40 5.67 0 1 0 628.72 662.63" stroke-width="2.5"/>
<polygon points="644.0,657.2 649.0,657.0 653.4,657.5 657.3,660.3 660.6,663.6 662.8,668.0 665.6,672.4 664.5,676.9 662.8,681.8 660.6,685.1 656.2,687.9 650.1,689.6 644.6,690.1 639.0,686.8 634.1,682.9 633.0,678.5 631.0,675.2 633.0,670.2 634.1,665.3 638.5,659.7" fill="#000" stroke="#000" stroke-width="1.2" stroke-linejoin="round"/>
<path d="M645.1 660.3C645.5 660.6 646.6 661.7 647.3 661.9C648.1 662.2 649.2 661.7 649.5 661.7" stroke-width="1.74" stroke="#fff"/>
<path d="M652.9 660.3C653.1 660.6 654.1 661.3 654.5 661.9C654.9 662.6 655.2 663.8 655.3 664.2" stroke-width="1.74" stroke="#fff"/>
<path d="M639.6 665.5C640.2 665.6 642.8 665.8 643.5 665.8" stroke-width="1.74" stroke="#fff"/>
<path d="M649.8 665.8C650.3 666.0 652.0 666.5 652.9 666.9C653.7 667.3 654.7 668.1 655.1 668.3" stroke-width="1.74" stroke="#fff"/>
<path d="M644.9 668.6C645.3 668.9 646.6 670.0 647.3 670.5C648.1 671.0 649.2 671.2 649.5 671.3" stroke-width="1.74" stroke="#fff"/>
<path d="M637.7 671.3C637.6 671.9 637.0 673.6 637.1 674.7C637.2 675.7 638.0 677.0 638.2 677.4" stroke-width="1.74" stroke="#fff"/>
<path d="M642.1 673.0C642.2 673.5 642.4 675.8 642.5 676.3" stroke-width="1.74" stroke="#fff"/>
<path d="M649.0 675.2C649.3 675.4 650.4 676.1 650.7 676.3" stroke-width="1.74" stroke="#fff"/>
<path d="M655.1 672.2C655.7 672.2 657.9 672.1 658.9 672.4C660.0 672.8 661.0 673.8 661.4 674.1" stroke-width="1.74" stroke="#fff"/>
<path d="M655.9 676.6C656.4 676.6 658.4 676.8 658.9 676.9" stroke-width="1.74" stroke="#fff"/>
<path d="M651.5 680.7C651.4 681.2 651.1 682.6 651.2 683.5C651.3 684.4 652.1 685.8 652.3 686.3" stroke-width="1.74" stroke="#fff"/>
<path d="M654.5 680.5C655.0 680.5 656.4 680.5 657.3 680.7C658.2 681.0 659.6 681.7 660.0 681.8" stroke-width="1.74" stroke="#fff"/>
<path d="M636.3 680.5C636.7 680.8 638.2 681.8 639.0 682.4C639.9 683.0 640.9 683.8 641.3 684.0" stroke-width="1.74" stroke="#fff"/>
<path d="M642.9 681.3C643.2 681.6 644.5 682.7 644.9 682.9" stroke-width="1.74" stroke="#fff"/>
<path d="M665.6 690.7L673.4 688.9L687.2 686.8L698.3 684.9L704.7 681.8L709.3 680.9L712.8 683.6L712.8 689.4L709.3 693L704.7 693.5L698.3 692.3L687.2 694.2L673.4 696.7L665.6 694.2Z" fill="#000" stroke="#000" stroke-width="1"/>
<path d="M667.9 692.3L702.9 687.1" stroke="#fff" stroke-width="1.1" stroke-dasharray="3.5 3"/>
<path d="M703.5 688L706.5 684.5L710 684" stroke="#fff" stroke-width="1.1"/>
<path d="M705.5 689.5L707.5 690.5" stroke="#fff" stroke-width="1.1"/>
<polygon points="571.7,723.2 566.0,728.7 557.8,728.7 552.1,723.2 552.1,715.4 557.8,709.9 566.0,709.9 571.7,715.4" fill="#000" stroke="#000" stroke-width="1"/>
<ellipse cx="563.4" cy="720.4" rx="6.6" ry="7.4" transform="rotate(25 563.4 720.4)" fill="#fff" stroke="none"/>
<path d="M566.8 716.3Q564 714.6 562.2 716.6Q560.6 719.6 561.8 723.6Q563.8 726 566.9 724.3" stroke-width="2.6"/>
<path d="M555.4 717L558.7 712.6" stroke="#fff" stroke-width="1"/>
<rect x="43.2" y="988" width="2.6" height="1.8" fill="#000" stroke="none"/>
<rect x="111.8" y="1082" width="2" height="1.2" fill="#000" stroke="none"/>
</g>
</svg>
</body></html>
